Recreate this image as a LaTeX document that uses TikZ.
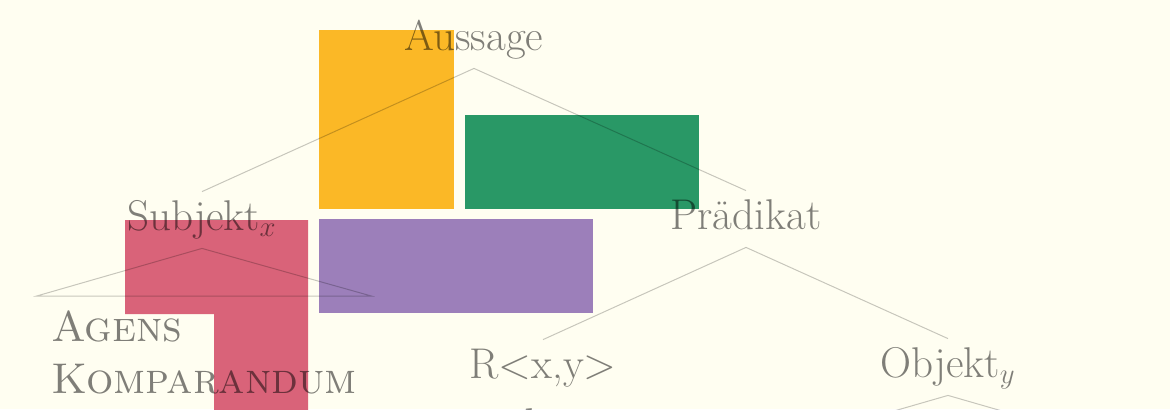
\documentclass[tikz,border=0pt]{standalone}
\usetikzlibrary{positioning}
\definecolor{bg}{RGB}{255,254,241}
\definecolor{blkorange}{RGB}{251,184,38}
\definecolor{blkgreen}{RGB}{41,152,102}
\definecolor{blkpurple}{RGB}{156,127,186}
\definecolor{blkred}{RGB}{217,99,121}
\begin{document}
\begin{tikzpicture}[
    x=0.5pt, y=-0.5pt,
    every node/.style={font=\fontsize{21.5}{26}\selectfont, text=black, text opacity=0.5},
    nd/.style={inner sep=4pt, text height=15pt, text depth=5pt, anchor=base},
    rf/.style={align=left, inner xsep=7pt, inner ysep=7pt, anchor=north},
    e/.style={draw=black, draw opacity=0.22, line width=0.5pt},
  ]
  \fill[bg] (0,0) rectangle (1170,409);
  \useasboundingbox (0,0) rectangle (1170,409);
  % coloured blocks
  \fill[blkorange] (319,30) rectangle (454,209);
  \fill[blkgreen] (465,115) rectangle (699,209);
  \fill[blkpurple] (319,219) rectangle (593,313);
  \fill[blkred] (125,220) -- (308,220) -- (308,420) -- (214,420) -- (214,314) -- (125,314) -- cycle;
  % tree
  \node[nd] (aus) at (474,50) {Aussage};
  \node[nd] (subj) at (202,230) {Subjekt$_x$};
  \node[nd] (praed) at (746,229) {Prädikat};
  \node[rf] (roof) at (204,296) {\textsc{Agens}\\\textsc{Komparandum}};
  \node[nd] (rel) at (543,378) {R<x,y>};
  \node[nd, below=2pt of rel] (relw) {\textit{wichtiger}};
  \node[nd] (obj) at (948,377) {Objekt$_y$};
  \coordinate (objL) at (783,443);
  \coordinate (objR) at (1113,443);
  \draw[e] (aus.south) -- (subj.north);
  \draw[e] (aus.south) -- (praed.north);
  \draw[e] (subj.south) -- (roof.north west) -- (roof.north east) -- cycle;
  \draw[e] (praed.south) -- (rel.north);
  \draw[e] (praed.south) -- (obj.north);
  \draw[e] (obj.south) -- (objL) -- (objR) -- cycle;
\end{tikzpicture}
\end{document}
